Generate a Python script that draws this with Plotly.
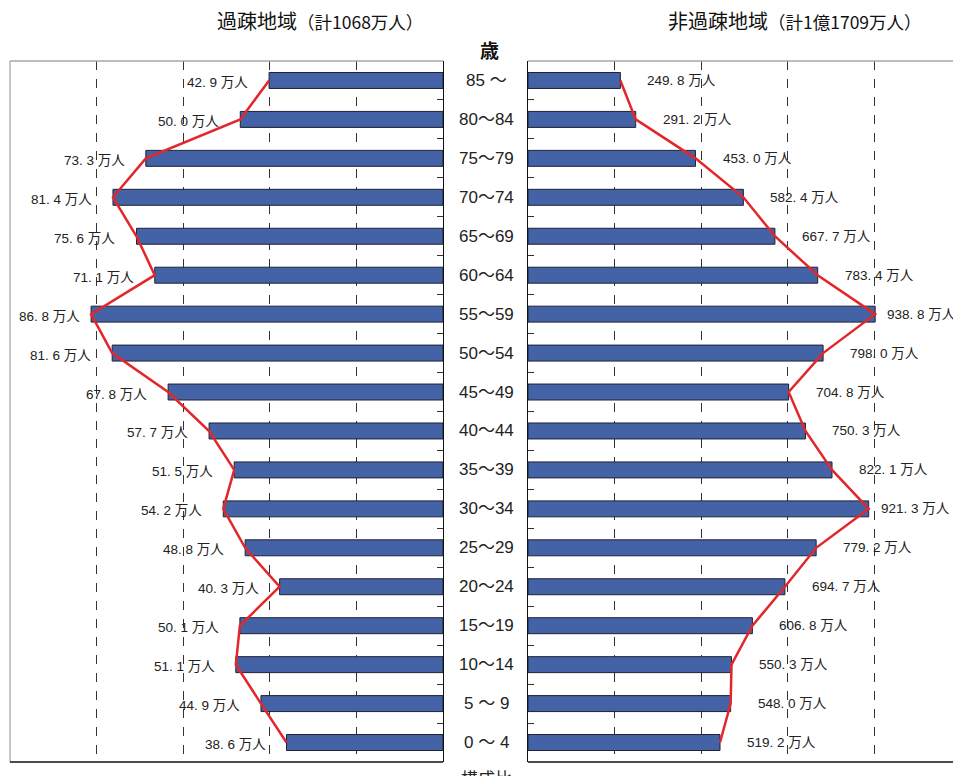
import plotly.graph_objects as go

# Age groups, top (oldest) to bottom (youngest)
age_groups = ["85 ～", "80～84", "75～79", "70～74", "65～69", "60～64", "55～59",
              "50～54", "45～49", "40～44", "35～39", "30～34", "25～29", "20～24",
              "15～19", "10～14", "5 ～ 9", "0 ～ 4"]

# Population (10,000 persons) per age group
depop_values = [42.9, 50.0, 73.3, 81.4, 75.6, 71.1, 86.8, 81.6, 67.8, 57.7,
                51.5, 54.2, 48.8, 40.3, 50.1, 51.1, 44.9, 38.6]
other_values = [249.8, 291.2, 453.0, 582.4, 667.7, 783.4, 938.8, 798.0, 704.8, 750.3,
                822.1, 921.3, 779.2, 694.7, 606.8, 550.3, 548.0, 519.2]

# Totals (10,000 persons) used for the composition ratio axis
depop_total = 1068
other_total = 11709

depop_title = "過疎地域"
depop_sub = "（計1068万人）"
other_title = "非過疎地域"
other_sub = "（計1億1709万人）"

W, H = 953, 776
FONT = "Liberation Sans, Arial, Noto Sans CJK JP, sans-serif"
CJK = "Noto Sans CJK JP, sans-serif"
BAR_COLOR = "#4462A6"
LINE_RED = "#E3262A"

depop_pct = [v / depop_total * 100 for v in depop_values]
other_pct = [v / other_total * 100 for v in other_values]

# plot area in pixels
left_x0, left_x1 = 10, 443
right_x0 = 528
top_px, bot_px = 61, 762
panel_w = left_x1 - left_x0
n = len(age_groups)


def px_x(p):
    return p / W


def px_y(p):
    return 1 - p / H


fig = go.Figure()

bar_style = dict(orientation="h", marker=dict(color=BAR_COLOR, line=dict(color="#1E2233", width=1)),
                 width=0.41, hoverinfo="skip", showlegend=False)

fig.add_trace(go.Bar(x=depop_pct, y=age_groups, xaxis="x", yaxis="y", **bar_style))
fig.add_trace(go.Bar(x=other_pct, y=age_groups, xaxis="x2", yaxis="y2", **bar_style))

line_style = dict(mode="lines", line=dict(color=LINE_RED, width=2.5), hoverinfo="skip", showlegend=False)
fig.add_trace(go.Scatter(x=depop_pct, y=age_groups, xaxis="x", yaxis="y", **line_style))
fig.add_trace(go.Scatter(x=other_pct, y=age_groups, xaxis="x2", yaxis="y2", **line_style))

annotations = []


def fmt(v):
    return f"{v:.1f}".replace(".", ". ") + " 万人"


label_font = dict(family=FONT, size=13.5, color="#222")
for cat, v, p in zip(age_groups, depop_values, depop_pct):
    shift = 9 if p > 7.8 else 19
    annotations.append(dict(x=p, y=cat, xref="x", yref="y", text=fmt(v), showarrow=False,
                            xanchor="right", yanchor="middle", xshift=-shift, yshift=-2, font=label_font))
for cat, v, p in zip(age_groups, other_values, other_pct):
    shift = 10 if p > 7.8 else 25
    annotations.append(dict(x=p, y=cat, xref="x2", yref="y2", text=fmt(v), showarrow=False,
                            xanchor="left", yanchor="middle", xshift=shift, font=label_font))

# age labels in the centre column
for cat in age_groups:
    annotations.append(dict(x=px_x(486), y=cat, xref="paper", yref="y", text=cat, showarrow=False,
                            xanchor="center", yanchor="middle",
                            font=dict(family=FONT, size=17, color="#222")))

# panel titles
title_font = dict(family=CJK, size=20, color="#111")
annotations.append(dict(x=px_x(320), y=px_y(20), xref="paper", yref="paper", showarrow=False,
                        text=f"{depop_title}<span style='font-size:17.5px'>{depop_sub}</span>",
                        xanchor="center", yanchor="middle", font=title_font))
annotations.append(dict(x=px_x(795), y=px_y(20), xref="paper", yref="paper", showarrow=False,
                        text=f"{other_title}<span style='font-size:17.5px'>{other_sub}</span>",
                        xanchor="center", yanchor="middle", font=title_font))
annotations.append(dict(x=px_x(489), y=px_y(49), xref="paper", yref="paper", showarrow=False,
                        text="<b>歳</b>", xanchor="center", yanchor="middle",
                        font=dict(family=CJK, size=19, color="#111")))
annotations.append(dict(x=px_x(487), y=px_y(763), xref="paper", yref="paper", showarrow=False,
                        text="構成比", xanchor="center", yanchor="top",
                        font=dict(family=CJK, size=17, color="#222")))

# frame lines
shapes = []
gray = "#A8A8A8"
for xr, yr, x0, x1, y0, y1, col in [
    ("x domain", "y domain", 0, 1, 1, 1, gray),      # left top
    ("x domain", "y domain", 0, 0, 0, 1, gray),      # left side
    ("x domain", "y domain", 0, 1, 0, 0, "#111"),    # left bottom
    ("x2 domain", "y2 domain", 0, 1, 1, 1, gray),    # right top
    ("x2 domain", "y2 domain", 0, 1, 0, 0, "#111"),  # right bottom
]:
    shapes.append(dict(type="line", xref=xr, yref=yr, x0=x0, x1=x1, y0=y0, y1=y1,
                       line=dict(color=col, width=1.3), layer="above"))

y_dom = [px_y(bot_px), px_y(top_px)]
grid = dict(showgrid=True, gridcolor="#333", gridwidth=1, griddash="dash", dtick=2, tick0=0,
            showticklabels=False, zeroline=False, ticks="", showline=False)

right_max = 10 * (W - right_x0) / panel_w

yax = dict(domain=y_dom, type="category", categoryorder="array", categoryarray=age_groups,
           range=[n - 0.5, -0.5], showticklabels=False, showgrid=False, showline=True,
           linecolor="#111", linewidth=1.3, ticks="inside", tickson="boundaries",
           ticklen=6, tickcolor="#333", zeroline=False)

fig.update_layout(
    width=W, height=H,
    margin=dict(l=0, r=0, t=0, b=0),
    paper_bgcolor="white", plot_bgcolor="white",
    xaxis=dict(domain=[px_x(left_x0), px_x(left_x1)], range=[10, 0], anchor="y", **grid),
    xaxis2=dict(domain=[px_x(right_x0), 1], range=[0, right_max], anchor="y2", **grid),
    yaxis=dict(anchor="x", side="right", **yax),
    yaxis2=dict(anchor="x2", side="left", **yax),
    annotations=annotations,
    shapes=shapes,
)

fig.write_html("out.html")
